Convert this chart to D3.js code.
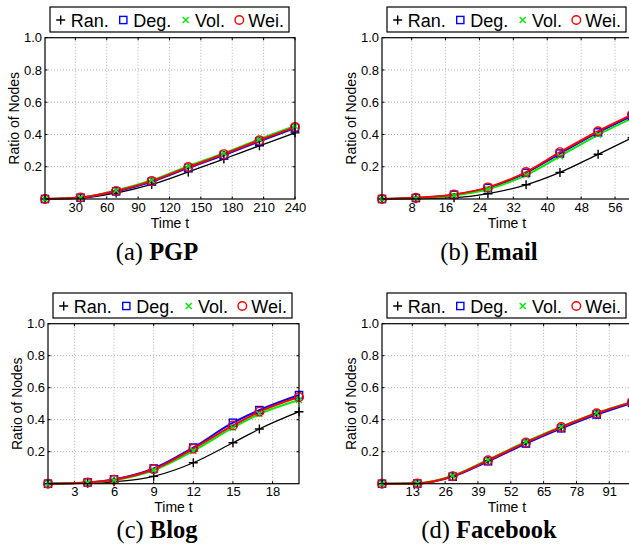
<!DOCTYPE html>
<html><head><meta charset="utf-8">
<script src="https://cdn.jsdelivr.net/npm/d3@7"></script>
<style>
html,body{margin:0;padding:0;background:#fff;}
svg{display:block;}
</style></head>
<body>
<svg id="chart" width="629" height="554"></svg>
<script>
// ---------- data ----------
const seriesNames = ["Ran.", "Deg.", "Vol.", "Wei."];
const seriesColors = ["#000000", "#0000ff", "#00ee00", "#ff0000"];
const yTicks = [0.2, 0.4, 0.6, 0.8, 1.0];

const pgpTime = [1, 35, 69, 103, 138, 172, 206, 240];
const pgpRan = [0, 0.005, 0.037, 0.09, 0.168, 0.248, 0.33, 0.41];
const pgpDeg = [0, 0.008, 0.047, 0.107, 0.193, 0.272, 0.358, 0.44];
const pgpVol = [0, 0.010, 0.053, 0.116, 0.204, 0.284, 0.371, 0.453];
const pgpWei = [0, 0.009, 0.050, 0.111, 0.198, 0.278, 0.364, 0.446];
const pgpTicks = [30, 60, 90, 120, 150, 180, 210, 240];

const emailTime = [1, 9, 18, 26, 35, 43, 52, 60];
const emailRan = [0, 0.002, 0.008, 0.033, 0.088, 0.165, 0.277, 0.38];
const emailDeg = [0, 0.006, 0.026, 0.068, 0.162, 0.282, 0.413, 0.515];
const emailVol = [0, 0.005, 0.022, 0.060, 0.148, 0.265, 0.398, 0.50];
const emailWei = [0, 0.007, 0.028, 0.072, 0.167, 0.290, 0.420, 0.522];
const emailTicks = [8, 16, 24, 32, 40, 48, 56];

const blogTime = [1, 4, 6, 9, 12, 15, 17, 20];
const blogRan = [0, 0.003, 0.012, 0.046, 0.131, 0.256, 0.342, 0.45];
const blogDeg = [0, 0.008, 0.027, 0.095, 0.226, 0.381, 0.46, 0.554];
const blogVol = [0, 0.006, 0.022, 0.084, 0.205, 0.35, 0.435, 0.523];
const blogWei = [0, 0.007, 0.025, 0.090, 0.219, 0.364, 0.45, 0.542];
const blogTicks = [3, 6, 9, 12, 15, 18];

const fbTime = [1, 15, 29, 43, 58, 72, 86, 100];
const fbRan = [0, 0.002, 0.046, 0.143, 0.255, 0.350, 0.436, 0.508];
const fbDeg = [0, 0.001, 0.044, 0.140, 0.251, 0.346, 0.432, 0.505];
const fbVol = [0, 0.003, 0.050, 0.150, 0.262, 0.356, 0.442, 0.512];
const fbWei = [0, 0.002, 0.047, 0.146, 0.258, 0.354, 0.440, 0.510];
const fbTicks = [13, 26, 39, 52, 65, 78, 91];

const panels = [
  {label: "(a) ", name: "PGP", time: pgpTime, series: [pgpRan, pgpDeg, pgpVol, pgpWei], ticks: pgpTicks,
   domain: [1, 240], box: {x0: 45, x1: 295, y0: 37.7, y1: 199}, capX: 157, capY: 260},
  {label: "(b) ", name: "Email", time: emailTime, series: [emailRan, emailDeg, emailVol, emailWei], ticks: emailTicks,
   domain: [1, 60], box: {x0: 382, x1: 632, y0: 37.7, y1: 199}, capX: 489, capY: 260},
  {label: "(c) ", name: "Blog", time: blogTime, series: [blogRan, blogDeg, blogVol, blogWei], ticks: blogTicks,
   domain: [1, 20], box: {x0: 48, x1: 299, y0: 323.7, y1: 483.7}, capX: 157, capY: 538},
  {label: "(d) ", name: "Facebook", time: fbTime, series: [fbRan, fbDeg, fbVol, fbWei], ticks: fbTicks,
   domain: [1, 100], box: {x0: 382, x1: 632, y0: 323.7, y1: 483.7}, capX: 489, capY: 538}
];

// ---------- drawing ----------
const svg = d3.select("#chart");
const FONT = "'Liberation Sans', Arial, Helvetica, sans-serif";

function drawMarker(g, k, x, y) {
  const c = seriesColors[k];
  if (k === 0) {
    const s = 4.5;
    g.append("path").attr("d", `M${x - s},${y}H${x + s}M${x},${y - s}V${y + s}`)
      .attr("stroke", c).attr("stroke-width", 1.4).attr("fill", "none");
  } else if (k === 1) {
    const s = 3.6;
    g.append("rect").attr("x", x - s).attr("y", y - s).attr("width", 2 * s).attr("height", 2 * s)
      .attr("stroke", c).attr("stroke-width", 1.4).attr("fill", "none");
  } else if (k === 2) {
    const s = 3;
    g.append("path").attr("d", `M${x - s},${y - s}L${x + s},${y + s}M${x - s},${y + s}L${x + s},${y - s}`)
      .attr("stroke", c).attr("stroke-width", 1.4).attr("fill", "none");
  } else {
    g.append("circle").attr("cx", x).attr("cy", y).attr("r", 4.3)
      .attr("stroke", c).attr("stroke-width", 1.4).attr("fill", "none");
  }
}

panels.forEach(p => {
  const b = p.box;
  const x = d3.scaleLinear().domain(p.domain).range([b.x0, b.x1]);
  const y = d3.scaleLinear().domain([0, 1]).range([b.y1, b.y0]);
  const g = svg.append("g");

  // grid
  const grid = g.append("g").attr("stroke", "#b0b0b0").attr("stroke-width", 1).attr("stroke-dasharray", "1,2");
  p.ticks.forEach(t => {
    if (x(t) < b.x1 - 1) grid.append("line").attr("x1", x(t)).attr("x2", x(t)).attr("y1", b.y0).attr("y2", b.y1);
  });
  yTicks.forEach(t => {
    if (t < 1) grid.append("line").attr("x1", b.x0).attr("x2", b.x1).attr("y1", y(t)).attr("y2", y(t));
  });

  // axes via d3 axis generators (labels)
  const xAxis = d3.axisBottom(x).tickValues(p.ticks).tickSize(0).tickPadding(3.5);
  const xa = g.append("g").attr("transform", `translate(0,${b.y1})`).call(xAxis);
  xa.select(".domain").remove();
  xa.selectAll("text").attr("font-family", FONT).attr("font-size", 13).attr("fill", "#000");

  const yAxis = d3.axisLeft(y).tickValues(yTicks).tickFormat(d3.format(".1f")).tickSize(0).tickPadding(3);
  const ya = g.append("g").attr("transform", `translate(${b.x0},0)`).call(yAxis);
  ya.select(".domain").remove();
  ya.selectAll("text").attr("font-family", FONT).attr("font-size", 13).attr("fill", "#000");

  // tick marks inside, on all sides
  const tk = g.append("g").attr("stroke", "#000").attr("stroke-width", 1);
  p.ticks.forEach(t => {
    tk.append("line").attr("x1", x(t)).attr("x2", x(t)).attr("y1", b.y1).attr("y2", b.y1 - 2.5);
    tk.append("line").attr("x1", x(t)).attr("x2", x(t)).attr("y1", b.y0).attr("y2", b.y0 + 2.5);
  });
  yTicks.forEach(t => {
    tk.append("line").attr("x1", b.x0).attr("x2", b.x0 + 2.5).attr("y1", y(t)).attr("y2", y(t));
    tk.append("line").attr("x1", b.x1).attr("x2", b.x1 - 2.5).attr("y1", y(t)).attr("y2", y(t));
  });

  // lines
  const line = d3.line().x((d, i) => x(p.time[i])).y(d => y(d)).curve(d3.curveMonotoneX);
  p.series.forEach((s, k) => {
    g.append("path").datum(s).attr("d", line).attr("fill", "none")
      .attr("stroke", seriesColors[k]).attr("stroke-width", k === 0 ? 1.3 : 2);
  });
  p.series.forEach((s, k) => {
    const mg = g.append("g");
    s.forEach((v, i) => drawMarker(mg, k, x(p.time[i]), y(v)));
  });

  // box
  g.append("rect").attr("x", b.x0).attr("y", b.y0).attr("width", b.x1 - b.x0).attr("height", b.y1 - b.y0)
    .attr("fill", "none").attr("stroke", "#000").attr("stroke-width", 1.2);

  // axis labels
  g.append("text").attr("x", (b.x0 + b.x1) / 2).attr("y", b.y1 + 28.5).attr("text-anchor", "middle")
    .attr("font-family", FONT).attr("font-size", 14).text("Time t");
  g.append("text").attr("transform", `translate(${b.x0 - 26},${(b.y0 + b.y1) / 2}) rotate(-90)`)
    .attr("text-anchor", "middle").attr("font-family", FONT).attr("font-size", 14).text("Ratio of Nodes");

  // legend
  const lx = b.x0 + 5, ly = b.y0 - 30.7;
  const lg = g.append("g");
  lg.append("rect").attr("x", lx).attr("y", ly).attr("width", 239).attr("height", 25)
    .attr("fill", "#fff").attr("stroke", "#000").attr("stroke-width", 1.2);
  const mOff = [10.7, 73.3, 135.7, 189.3];
  const tOff = [20.7, 83.3, 145, 198.3];
  seriesNames.forEach((n, k) => {
    drawMarker(lg, k, lx + mOff[k], ly + 13);
    lg.append("text").attr("x", lx + tOff[k]).attr("y", ly + 19.5).attr("font-family", FONT)
      .attr("font-size", 18).text(n);
  });

  // caption
  const cap = g.append("text").attr("x", p.capX).attr("y", p.capY).attr("text-anchor", "middle")
    .attr("font-family", "'Liberation Serif', 'Times New Roman', serif").attr("font-size", 24.5);
  cap.append("tspan").text(p.label);
  cap.append("tspan").attr("font-weight", "bold").text(p.name);
});
</script>
</body></html>
